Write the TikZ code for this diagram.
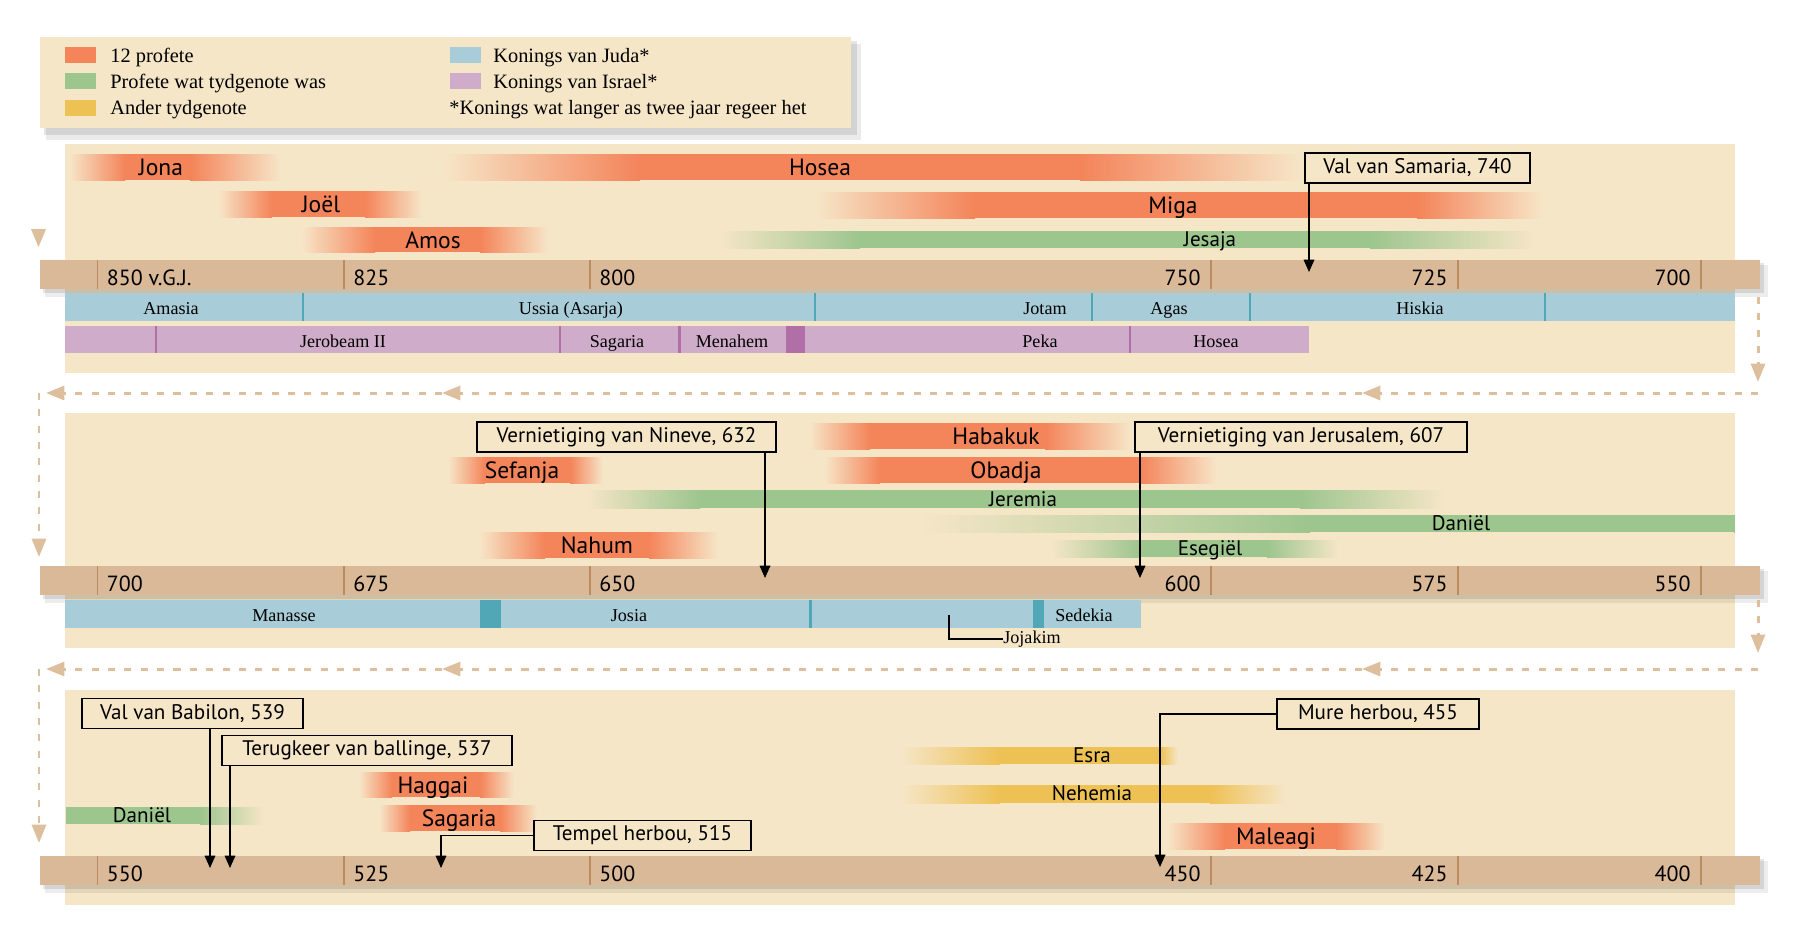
\documentclass[tikz,border=0pt]{standalone}
\usepackage{fontspec}
\setmainfont{Liberation Serif}
\setsansfont{PT Sans}
\usepackage{xcolor}
\usepackage{tikz}
\usetikzlibrary{arrows.meta,positioning,calc}
\definecolor{panelbeige}{HTML}{F6E6C8}
\definecolor{axistan}{HTML}{D9B998}
\definecolor{ticktan}{HTML}{B98C62}
\definecolor{flowtan}{HTML}{DDBF9D}
\definecolor{prophetorange}{HTML}{F4845A}
\definecolor{contempgreen}{HTML}{9DC58E}
\definecolor{otheryellow}{HTML}{EEC154}
\definecolor{judahblue}{HTML}{A8CCD8}
\definecolor{judahdark}{HTML}{52A7B6}
\definecolor{israelpurple}{HTML}{CFADCA}
\definecolor{israeldark}{HTML}{B06FA6}

\begin{document}
\begin{tikzpicture}[
    x=0.2mm, y=-0.2mm,
    panel/.style={fill=panelbeige},
    tick/.style={draw=ticktan, line width=0.85pt},
    yearlbl/.style={font=\sffamily\fontsize{12.5}{14}\selectfont, inner sep=0pt},
    prophetlbl/.style={font=\sffamily\fontsize{13.4}{15}\selectfont, inner sep=0pt, anchor=base},
    otherlbl/.style={font=\sffamily\fontsize{12}{14}\selectfont, inner sep=0pt, anchor=base},
    kinglbl/.style={font=\fontsize{10.3}{12}\selectfont, inner sep=0pt, anchor=base},
    legendtxt/.style={font=\fontsize{11.6}{13}\selectfont, inner sep=0pt, anchor=base west},
    swatch/.style={minimum width=6.2mm, minimum height=3.2mm, inner sep=0pt},
    event/.style={draw=black, line width=0.9pt, fill=panelbeige, minimum height=6mm, inner sep=0pt,
                  font=\sffamily\fontsize{12}{14}\selectfont},
    evarrow/.style={line width=0.9pt, -{Triangle[length=7pt, width=6pt]}},
    flow/.style={draw=flowtan, line width=1.7pt, dash pattern=on 4pt off 5.3pt,
                 -{Triangle[length=10.5pt, width=8pt]}},
    divider/.style={line width=0.6pt}
]
    \fill[white] (0,0) rectangle (1800,946);
    \useasboundingbox (0,0) rectangle (1800,946);

    % Legend
    \fill[black, opacity=0.10] (44,41) rectangle (857,135);
    \fill[black, opacity=0.08] (46,44) rectangle (861,140);
    \node[fill=panelbeige, minimum width=162.2mm, minimum height=18.2mm, inner sep=0pt] (legend) at (445.5,82.5) {};

    \foreach \i/\y/\col/\txt in {1/55/prophetorange/{12 profete}, 2/81/contempgreen/{Profete wat tydgenote was}, 3/107.5/otheryellow/{Ander tydgenote}} {
        \node[swatch, fill=\col] (swA\i) at (80.5,\y) {};
        \node[legendtxt] (lgA\i) at (110,\y+7) {\txt};
    }
    \foreach \i/\y/\col/\txt in {1/55/judahblue/{Konings van Juda*}, 2/81/israelpurple/{Konings van Israel*}} {
        \node[swatch, fill=\col] (swB\i) at (465,\y) {};
        \node[legendtxt] (lgB\i) at (493,\y+7) {\txt};
    }
    \node[legendtxt] (lgNote) at (449,114) {*Konings wat langer as twee jaar regeer het};

    % Panel backgrounds
    \fill[panel] (65,144) rectangle (1735,373);
    \fill[panel] (65,413) rectangle (1735,648);
    \fill[panel] (65,690) rectangle (1735,905);

    % Axis bars with shadow
    \foreach \t in {260,566,856} {
        \fill[black, opacity=0.10] (43,\t+3) rectangle (1764,\t+33);
        \fill[black, opacity=0.07] (45,\t+5) rectangle (1768,\t+37);
        \fill[axistan] (40,\t) rectangle (1760,\t+29);
    }

    % Panel 1 ticks
    \foreach \i/\x/\yr in {1/97.6/{850 v.G.J.}, 2/344/825, 3/590/800} {
        \draw[tick] (\x,260) -- (\x,289);
        \node[yearlbl, anchor=base west] (yrA\i) at (\x+9,285.5) {\yr};
    }
    \foreach \i/\x/\yr in {4/1211/750, 5/1458/725, 6/1701/700} {
        \draw[tick] (\x,260) -- (\x,289);
        \node[yearlbl, anchor=base east] (yrA\i) at (\x-10,285.5) {\yr};
    }

    % Panel 2 ticks
    \foreach \i/\x/\yr in {1/97.6/700, 2/344/675, 3/590/650} {
        \draw[tick] (\x,566) -- (\x,595);
        \node[yearlbl, anchor=base west] (yrB\i) at (\x+9,591.5) {\yr};
    }
    \foreach \i/\x/\yr in {4/1211/600, 5/1458/575, 6/1701/550} {
        \draw[tick] (\x,566) -- (\x,595);
        \node[yearlbl, anchor=base east] (yrB\i) at (\x-10,591.5) {\yr};
    }

    % Panel 3 ticks
    \foreach \i/\x/\yr in {1/97.6/550, 2/344/525, 3/590/500} {
        \draw[tick] (\x,856) -- (\x,885);
        \node[yearlbl, anchor=base west] (yrC\i) at (\x+9,881.5) {\yr};
    }
    \foreach \i/\x/\yr in {4/1211/450, 5/1458/425, 6/1701/400} {
        \draw[tick] (\x,856) -- (\x,885);
        \node[yearlbl, anchor=base east] (yrC\i) at (\x-10,881.5) {\yr};
    }

    % Kings of Judah, panel 1
    \fill[judahblue] (65,293) rectangle (1735,321);
    \foreach \x in {303,815,1092,1250,1545} {
        \draw[divider, judahdark] (\x,293) -- (\x,321);
    }
    \foreach \nm/\x/\lab in {kAmasia/171/Amasia, kUssia/571/{Ussia (Asarja)}, kJotam/1045/Jotam, kAgas/1169/Agas, kHiskia/1420/Hiskia} {
        \node[kinglbl] (\nm) at (\x,314.5) {\lab};
    }

    % Kings of Israel, panel 1
    \fill[israelpurple] (65,326) rectangle (1309,353);
    \fill[israeldark] (678,326) rectangle (681,353);
    \fill[israeldark] (786,326) rectangle (805,353);
    \foreach \x in {156,560,1130} {
        \draw[divider, israeldark] (\x,326) -- (\x,353);
    }
    \foreach \nm/\x/\lab in {kJerobeam/343/{Jerobeam II}, kSagaria/617/Sagaria, kMenahem/732/Menahem, kPeka/1040/Peka, kHosea/1216/Hosea} {
        \node[kinglbl] (\nm) at (\x,347) {\lab};
    }

    % Kings of Judah, panel 2
    \fill[judahblue] (65,600) rectangle (1141,628);
    \fill[judahdark] (480,600) rectangle (501,628);
    \fill[judahdark] (809,600) rectangle (812,628);
    \fill[judahdark] (1033,600) rectangle (1044,628);
    \foreach \nm/\x/\lab in {kManasse/284/Manasse, kJosia/629/Josia, kSedekia/1084/Sedekia} {
        \node[kinglbl] (\nm) at (\x,621.5) {\lab};
    }
    \node[kinglbl, anchor=west] (kJojakim) at (1003,639) {Jojakim};
    \coordinate (jojakimPt) at (949,615);
    \draw[line width=0.8pt] (jojakimPt) |- (kJojakim.west);

    % 12 prophets (orange bars)
    \foreach \nm/\xa/\xb/\xc/\xd/\ya/\yb/\tx/\bl/\lab in {
        jona/69/125/190/281/154/180/161/175.5/Jona,
        hosea/442/640/1080/1303/154/180/820/175.5/Hosea,
        joel/218/272/365/422/191/217/321/212.5/Joël,
        miga/815/975/1417/1544/192/218/1173/213.5/Miga,
        amos/301/375/480/548/227/252/433/248/Amos,
        habakuk/809/870/1045/1131/423/449/996/444.5/Habakuk,
        sefanja/448/485/570/603/457/483/522/478.5/Sefanja,
        obadja/824/880/1140/1217/457/483/1006/478.5/Obadja,
        nahum/479/545/649/718/532/558/597/553.5/Nahum,
        haggai/359/392/480/514/772/797/433/793/Haggai,
        sagaria/379/410/500/537/805/831/459/826.5/Sagaria,
        maleagi/1167/1225/1336/1385/823/849/1276/844.5/Maleagi} {
        \shade[left color=panelbeige, right color=prophetorange] (\xa,\ya) rectangle (\xb,\yb);
        \fill[prophetorange] (\xb,\ya) rectangle (\xc,\yb);
        \shade[left color=prophetorange, right color=panelbeige] (\xc,\ya) rectangle (\xd,\yb);
        \node[prophetlbl] (\nm) at (\tx,\bl) {\lab};
    }

    % Contemporary prophets (green bars)
    \foreach \nm/\xa/\xb/\xc/\xd/\ya/\yb/\tx/\bl/\lab in {
        jesaja/718/860/1370/1537/231/248/1210/246.5/Jesaja,
        jeremia/586/700/1300/1446/490/508/1023/506/Jeremia,
        danielB/918/1310/1734/1735/515/532/1461/530.5/Daniël,
        esegiel/1050/1140/1267/1339/540/557/1210/555.5/Esegiël,
        danielC/65/66/200/264/807/824/142/822.5/Daniël} {
        \shade[left color=panelbeige, right color=contempgreen] (\xa,\ya) rectangle (\xb,\yb);
        \fill[contempgreen] (\xb,\ya) rectangle (\xc,\yb);
        \shade[left color=contempgreen, right color=panelbeige] (\xc,\ya) rectangle (\xd,\yb);
        \node[otherlbl] (\nm) at (\tx,\bl) {\lab};
    }

    % Other contemporaries (yellow bars)
    \foreach \nm/\xa/\xb/\xc/\xd/\ya/\yb/\tx/\bl/\lab in {
        esra/901/1000/1160/1178/747/764/1092/762/Esra,
        nehemia/901/1000/1210/1287/785/803/1092/800.5/Nehemia} {
        \shade[left color=panelbeige, right color=otheryellow] (\xa,\ya) rectangle (\xb,\yb);
        \fill[otheryellow] (\xb,\ya) rectangle (\xc,\yb);
        \shade[left color=otheryellow, right color=panelbeige] (\xc,\ya) rectangle (\xd,\yb);
        \node[otherlbl] (\nm) at (\tx,\bl) {\lab};
    }

    % Events
    \node[event, minimum width=45mm] (samaria) at (1417.5,168) {Val van Samaria, 740};
    \node[event, minimum width=59.8mm] (nineve) at (626.5,437) {Vernietiging van Nineve, 632};
    \node[event, minimum width=66.4mm] (jerusalem) at (1301,437) {Vernietiging van Jerusalem, 607};
    \node[event, minimum width=44.2mm] (babilon) at (192.5,713.5) {Val van Babilon, 539};
    \node[event, minimum width=58mm] (ballinge) at (367,750.5) {Terugkeer van ballinge, 537};
    \node[event, minimum width=43.4mm] (tempel) at (642.5,835.5) {Tempel herbou, 515};
    \node[event, minimum width=40.4mm] (mure) at (1378,714) {Mure herbou, 455};

    \coordinate (samariaPt) at (1309,272);
    \coordinate (ninevePt) at (765,578);
    \coordinate (jerusalemPt) at (1140,578);
    \coordinate (babilonPt) at (210,868);
    \coordinate (ballingePt) at (230,868);
    \coordinate (tempelPt) at (441,868);
    \coordinate (murePt) at (1160,867);

    \draw[evarrow] (samaria.south -| samariaPt) -- (samariaPt);
    \draw[evarrow] (nineve.south -| ninevePt) -- (ninevePt);
    \draw[evarrow] (jerusalem.south -| jerusalemPt) -- (jerusalemPt);
    \draw[evarrow] (babilon.south -| babilonPt) -- (babilonPt);
    \draw[evarrow] (ballinge.south -| ballingePt) -- (ballingePt);
    \draw[evarrow] (tempel.west) -| (tempelPt);
    \draw[evarrow] (mure.west) -| (murePt);

    % Reading direction (dashed)
    \fill[flowtan] (31,229) -- (46,229) -- (38.5,247) -- cycle;

    \coordinate (rA1) at (1758,297);
    \coordinate (rA2) at (1758,382);
    \coordinate (hA1) at (1758,393);
    \coordinate (hA2) at (1362,393);
    \coordinate (hA3) at (442,393);
    \coordinate (hA4) at (46,393);
    \coordinate (lA1) at (39,393);
    \coordinate (lA2) at (39,557);
    \draw[flow] (rA1) -- (rA2);
    \draw[flow] (hA1) -- (hA2);
    \draw[flow] (hA2) -- (hA3);
    \draw[flow] (hA3) -- (hA4);
    \draw[flow] (lA1) -- (lA2);

    \coordinate (rB1) at (1758,600);
    \coordinate (rB2) at (1758,653);
    \coordinate (hB1) at (1758,669);
    \coordinate (hB2) at (1362,669);
    \coordinate (hB3) at (442,669);
    \coordinate (hB4) at (46,669);
    \coordinate (lB1) at (39,669);
    \coordinate (lB2) at (39,843);
    \draw[flow] (rB1) -- (rB2);
    \draw[flow] (hB1) -- (hB2);
    \draw[flow] (hB2) -- (hB3);
    \draw[flow] (hB3) -- (hB4);
    \draw[flow] (lB1) -- (lB2);

\end{tikzpicture}
\end{document}
